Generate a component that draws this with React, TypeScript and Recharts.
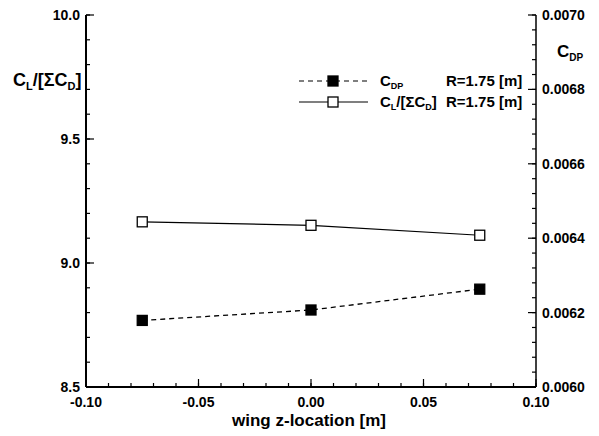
import { Legend, Line, LineChart, XAxis, YAxis } from "recharts";

// wing z-location [m]
const zLocation = [-0.075, 0.0, 0.075];
// C_L / [sum C_D], left axis
const liftToDrag = [9.166, 9.152, 9.112];
// C_DP, right axis
const cdp = [0.006179, 0.006207, 0.006263];

const xMajor = [-0.1, -0.05, 0, 0.05, 0.1];
const xLabels = ["-0.10", "-0.05", "0.00", "0.05", "0.10"];
const leftMajor = [8.5, 9.0, 9.5, 10.0];
const leftLabels = ["8.5", "9.0", "9.5", "10.0"];
const rightMajor = [0.006, 0.0062, 0.0064, 0.0066, 0.0068, 0.007];
const rightLabels = ["0.0060", "0.0062", "0.0064", "0.0066", "0.0068", "0.0070"];

const FONT = "'Liberation Sans', Arial, Helvetica, sans-serif";
const W = 599;
const H = 436;
const TICK = 4; // minor tick length, inward
const MAJOR = 8; // major tick length, inward

const data = zLocation.map((z, i) => ({ z, ratio: liftToDrag[i], cdp: cdp[i] }));

// minor ticks between the majors (axis decoration only)
function withMinor(major: number[], sub: number) {
  const out: number[] = [];
  for (let i = 0; i < major.length - 1; i++) {
    const step = (major[i + 1] - major[i]) / sub;
    for (let k = 0; k < sub; k++) out.push(major[i] + k * step);
  }
  out.push(major[major.length - 1]);
  return out;
}

// label + longer mark on the major ticks; short tick lines come from recharts
function makeTick(side: "left" | "right" | "bottom", major: number[], labels: string[]) {
  return (props: any) => {
    const { x, y, payload, index } = props;
    const idx = major.findIndex((m) => Math.abs(m - payload.value) < 1e-9);
    if (idx < 0) return <g key={index} />;
    const label = labels[idx];
    if (side === "bottom") {
      return (
        <g key={index}>
          <path d={`M${x},${y}V${y - MAJOR}`} stroke="#000" strokeWidth={1.2} fill="none" />
          <text x={x} y={y + 20} textAnchor="middle" fontFamily={FONT} fontWeight="bold" fontSize={14} fill="#000">
            {label}
          </text>
        </g>
      );
    }
    const dir = side === "left" ? 1 : -1;
    return (
      <g key={index}>
        <path d={`M${x},${y}H${x + dir * MAJOR}`} stroke="#000" strokeWidth={1.2} fill="none" />
        <text
          x={x - dir * 6}
          y={y + 5}
          textAnchor={side === "left" ? "end" : "start"}
          fontFamily={FONT}
          fontWeight="bold"
          fontSize={14}
          fill="#000"
        >
          {label}
        </text>
      </g>
    );
  };
}

const squareDot = (fill: string) => (props: any) => {
  const { cx, cy, index } = props;
  return <rect key={index} x={cx - 5} y={cy - 5} width={10} height={10} fill={fill} stroke="#000" strokeWidth={1.3} />;
};

function LegendBox() {
  const rows = [
    { y: 13, dash: "5 4", fill: "#000", kind: "cdp" },
    { y: 34, dash: undefined, fill: "#fff", kind: "ratio" },
  ];
  return (
    <svg width={240} height={48} style={{ overflow: "visible" }}>
      {rows.map((r) => (
        <g key={r.kind}>
          <line x1={9} x2={78} y1={r.y} y2={r.y} stroke="#000" strokeWidth={1.2} strokeDasharray={r.dash} />
          <rect x={38} y={r.y - 5} width={10} height={10} fill={r.fill} stroke="#000" strokeWidth={1.3} />
          <text x={90} y={r.y + 5} fontFamily={FONT} fontWeight="bold" fontSize={15} fill="#000">
            {r.kind === "cdp" ? (
              <>
                C<tspan fontSize={9} dy={3}>DP</tspan>
              </>
            ) : (
              <>
                C<tspan fontSize={9} dy={3}>L</tspan>
                <tspan dy={-3}>/[ΣC</tspan>
                <tspan fontSize={9} dy={3}>D</tspan>
                <tspan dy={-3}>]</tspan>
              </>
            )}
          </text>
          <text x={156} y={r.y + 5} fontFamily={FONT} fontWeight="bold" fontSize={15} fill="#000">
            R=1.75 [m]
          </text>
        </g>
      ))}
    </svg>
  );
}

const tickLineStyle = { stroke: "#000", strokeWidth: 1.2 };

export default function App() {
  return (
    <div style={{ position: "absolute", left: 0, top: 0, width: W, height: H, background: "#fff" }}>
      <LineChart width={W} height={H} data={data} margin={{ top: 15, right: 0, left: 0, bottom: 0 }}>
        <XAxis
          dataKey="z"
          type="number"
          domain={[-0.1, 0.1]}
          ticks={withMinor(xMajor, 5)}
          interval={0}
          height={49}
          tickSize={-TICK}
          tickMargin={TICK}
          axisLine={{ stroke: "#000", strokeWidth: 2 }}
          tickLine={tickLineStyle}
          tick={makeTick("bottom", xMajor, xLabels)}
        />
        <YAxis
          yAxisId="left"
          orientation="left"
          type="number"
          domain={[8.5, 10]}
          ticks={withMinor(leftMajor, 5)}
          interval={0}
          width={86}
          tickSize={-TICK}
          tickMargin={TICK}
          axisLine={{ stroke: "#000", strokeWidth: 2 }}
          tickLine={tickLineStyle}
          tick={makeTick("left", leftMajor, leftLabels)}
        />
        <YAxis
          yAxisId="right"
          orientation="right"
          type="number"
          domain={[0.006, 0.007]}
          ticks={withMinor(rightMajor, 5)}
          interval={0}
          width={63}
          tickSize={-TICK}
          tickMargin={TICK}
          axisLine={{ stroke: "#000", strokeWidth: 1.5 }}
          tickLine={tickLineStyle}
          tick={makeTick("right", rightMajor, rightLabels)}
        />
        <Legend
          layout="vertical"
          verticalAlign="middle"
          align="center"
          content={() => <LegendBox />}
          wrapperStyle={{ position: "absolute", left: 290, top: 68, width: 240, height: 48 }}
        />
        <Line
          yAxisId="right"
          dataKey="cdp"
          type="linear"
          stroke="#000"
          strokeWidth={1.3}
          strokeDasharray="5 4"
          dot={squareDot("#000")}
          isAnimationActive={false}
        />
        <Line
          yAxisId="left"
          dataKey="ratio"
          type="linear"
          stroke="#000"
          strokeWidth={1.2}
          dot={squareDot("#fff")}
          isAnimationActive={false}
        />
      </LineChart>
      <svg width={W} height={H} style={{ position: "absolute", left: 0, top: 0, pointerEvents: "none" }}>
        <text x={13} y={86} fontFamily={FONT} fontWeight="bold" fontSize={18} fill="#000">
          C<tspan fontSize={11} dy={4}>L</tspan>
          <tspan dy={-4}>/[ΣC</tspan>
          <tspan fontSize={11} dy={4}>D</tspan>
          <tspan dy={-4}>]</tspan>
        </text>
        <text x={557} y={57} fontFamily={FONT} fontWeight="bold" fontSize={17} fill="#000">
          C<tspan fontSize={10} dy={4}>DP</tspan>
        </text>
        <text x={309} y={426} textAnchor="middle" fontFamily={FONT} fontWeight="bold" fontSize={17} fill="#000">
          wing z-location [m]
        </text>
      </svg>
    </div>
  );
}
